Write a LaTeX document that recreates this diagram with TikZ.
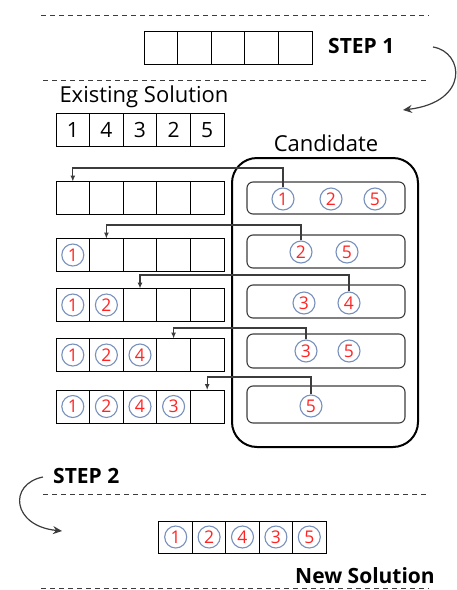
\documentclass[tikz,border=0pt]{standalone}
\usepackage{fontspec}
\setmainfont{Open Sans}
\usetikzlibrary{arrows.meta}
\definecolor{ringblue}{HTML}{7890BC}
\definecolor{digitred}{HTML}{FF2424}
\definecolor{linegray}{HTML}{3C3C3C}

\begin{document}
\begin{tikzpicture}[x=1pt,y=-1pt,
  cell/.style={draw=black, line width=1pt, minimum width=33.6pt, minimum height=33pt, inner sep=0pt, outer sep=0pt},
  ring/.style={circle, draw=ringblue, line width=1.1pt, minimum size=22pt, inner sep=0pt, text=digitred, font=\fontsize{17.5}{17.5}\selectfont},
  slot/.style={draw=linegray, line width=1.1pt, rounded corners=6pt, minimum width=158pt, inner sep=0pt},
  pool/.style={draw=black, line width=2pt, rounded corners=25pt, minimum width=186pt, minimum height=289pt, inner sep=0pt},
  conn/.style={draw=linegray, line width=1.1pt, -{Latex[length=6pt,width=5pt]}},
  curvedarrow/.style={draw=linegray, line width=1.2pt, -{Stealth[length=9pt,width=8pt,inset=3pt]}},
  sep/.style={draw=linegray, line width=1pt, dash pattern=on 5pt off 4pt},
  steplabel/.style={font=\fontsize{21}{21}\selectfont\bfseries, inner sep=0pt},
  caption/.style={font=\fontsize{22}{22}\selectfont, inner sep=0pt},
]
\useasboundingbox (0,0) rectangle (457,590);

% dashed separators
\coordinate (d1a) at (41,15);  \coordinate (d1b) at (429,15);
\coordinate (d2a) at (43,80);  \coordinate (d2b) at (429,80);
\coordinate (d3a) at (43,494); \coordinate (d3b) at (429,494);
\coordinate (d4a) at (41,588); \coordinate (d4b) at (429,588);
\draw[sep] (d1a) -- (d1b);
\draw[sep] (d2a) -- (d2b);
\draw[sep] (d3a) -- (d3b);
\draw[sep] (d4a) -- (d4b);

% STEP 1: empty solution
\foreach \c in {1,...,5}
  \node[cell] (top\c) at ({144+33.6*(\c-0.5)},47.5) {};
\node[steplabel, anchor=west] (step1) at (328,46) {STEP 1};
\coordinate (s1start) at (433,47);
\coordinate (s1end) at (403,110);
\draw[curvedarrow] (s1start) .. controls (464,52) and (470,102) .. (s1end);

% existing solution
\node[caption] (exlabel) at (144,97) {Existing Solution};
\foreach \c/\v in {1/1,2/4,3/3,4/2,5/5}
  \node[cell, font=\fontsize{21}{21}\selectfont] (es\c) at ({56+33.6*(\c-0.5)},130) {\v};

% construction rows
\foreach \r/\y in {1/198,2/255,3/305,4/355,5/406.5}
  \foreach \c in {1,...,5}
    \node[cell] (row\r-\c) at ({56+33.6*(\c-0.5)},\y) {};

\node[ring] (p2-1) at (row2-1) {1};
\node[ring] (p3-1) at (row3-1) {1};
\node[ring] (p3-2) at (row3-2) {2};
\node[ring] (p4-1) at (row4-1) {1};
\node[ring] (p4-2) at (row4-2) {2};
\node[ring] (p4-3) at (row4-3) {4};
\node[ring] (p5-1) at (row5-1) {1};
\node[ring] (p5-2) at (row5-2) {2};
\node[ring] (p5-3) at (row5-3) {4};
\node[ring] (p5-4) at (row5-4) {3};

% candidate pool
\node[caption] (candlabel) at (326,143) {Candidate};
\node[pool] (pool) at (325,302.5) {};
\node[slot, minimum height=32pt] (cand1) at (326,198) {};
\node[slot, minimum height=33pt] (cand2) at (326,251.5) {};
\node[slot, minimum height=33pt] (cand3) at (326,301.5) {};
\node[slot, minimum height=34pt] (cand4) at (326,351) {};
\node[slot, minimum height=37pt] (cand5) at (326,404.5) {};

\node[ring] (k1-1) at (283,199) {1};
\node[ring] (k1-2) at (331,199) {2};
\node[ring] (k1-5) at (375,199) {5};
\node[ring] (k2-2) at (301,252) {2};
\node[ring] (k2-5) at (347,252) {5};
\node[ring] (k3-3) at (304,303) {3};
\node[ring] (k3-4) at (349,303) {4};
\node[ring] (k4-3) at (306,351) {3};
\node[ring] (k4-5) at (349,351) {5};
\node[ring] (k5-5) at (311,406) {5};

% selection connectors
\coordinate (lane1) at (0,168);
\coordinate (lane2) at (0,225);
\coordinate (lane3) at (0,275);
\coordinate (lane4) at (0,328);
\coordinate (lane5) at (0,377);
\draw[conn] (k1-1.north) -- (k1-1.north |- lane1) -| (row1-1.north);
\draw[conn] (k2-2.north) -- (k2-2.north |- lane2) -| (row2-2.north);
\draw[conn] (k3-4.north) -- (k3-4.north |- lane3) -| (row3-3.north);
\draw[conn] (k4-3.north) -- (k4-3.north |- lane4) -| (row4-4.north);
\draw[conn] (k5-5.north) -- (k5-5.north |- lane5) -| (row5-5.north);

% STEP 2: new solution
\node[steplabel, anchor=west] (step2) at (53,476) {STEP 2};
\coordinate (s2start) at (43,477);
\coordinate (s2end) at (62,531);
\draw[curvedarrow] (s2start) .. controls (8,484) and (12,526) .. (s2end);

\foreach \c in {1,...,5}
  \node[cell, minimum height=32pt] (new\c) at ({159+33.4*(\c-0.5)},537) {};
\node[ring] (n1) at (new1) {1};
\node[ring] (n2) at (new2) {2};
\node[ring] (n3) at (new3) {4};
\node[ring] (n4) at (new4) {3};
\node[ring] (n5) at (new5) {5};
\node[steplabel, anchor=east] (newlabel) at (435,576) {New Solution};
\end{tikzpicture}
\end{document}
